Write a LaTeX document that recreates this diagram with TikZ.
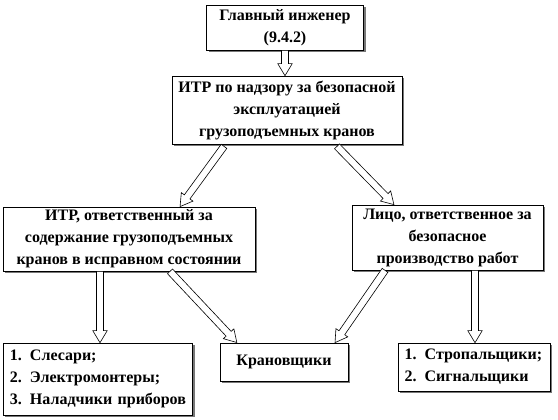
\documentclass[tikz,border=0pt]{standalone}
\usepackage{fontspec}
\setmainfont{Liberation Serif}
\usepackage{tikz}
\usetikzlibrary{calc, shadows}
\definecolor{ShadowGray}{RGB}{120, 120, 120}
\tikzset{
  box/.style={rectangle, draw=black, fill=white, line width=0.5pt,
    align=center, inner sep=2pt,
    font=\fontsize{12}{16.5}\selectfont\bfseries,
    drop shadow={shadow xshift=1.6pt, shadow yshift=-1.6pt,
      fill=ShadowGray, opacity=1}},
  listbox/.style={box, align=left, inner xsep=5pt},
  barr/.style={draw=black, fill=white, line width=0.45pt},
}
% hollow block arrow between two points
\newcommand{\blockarrow}[2]{%
  \draw[barr] let \p1=#1, \p2=#2,
      \n1={atan2(\y2-\y1,\x2-\x1)}, \n2={veclen(\x2-\x1,\y2-\y1)} in
    [shift={(\p1)}, rotate=\n1]
    (0pt,-2.6pt) -- ({\n2*1pt-9pt},-2.6pt) -- ({\n2*1pt-9pt},-5.4pt)
    -- ({\n2*1pt},0pt) -- ({\n2*1pt-9pt},5.4pt) -- ({\n2*1pt-9pt},2.6pt)
    -- (0pt,2.6pt) -- cycle;}

\begin{document}
\begin{tikzpicture}[x=0.75pt, y=-0.75pt]
  \useasboundingbox (0,0) rectangle (558,419);
  % boxes
  \node[box, minimum width=117.75pt, minimum height=33.75pt]
    (chief) at (285,27.5) {Главный инженер\\(9.4.2)};
  \node[box, minimum width=172.5pt, minimum height=51pt]
    (itr) at (287,110) {ИТР по надзору за безопасной\\эксплуатацией\\грузоподъемных кранов};
  \node[box, minimum width=189pt, minimum height=48pt]
    (left) at (129,239) {ИТР, ответственный за\\содержание грузоподъемных\\кранов в исправном состоянии};
  \node[box, minimum width=143.25pt, minimum height=48.75pt]
    (right) at (447.5,237.5) {Лицо, ответственное за\\безопасное\\производство работ};
  \node[listbox, text width=132pt, minimum height=54pt]
    (fitters) at (98,379) {1. Слесари;\\2. Электромонтеры;\\3. Наладчики приборов};
  \node[box, minimum width=96pt, minimum height=28.5pt]
    (crane) at (284,362) {Крановщики};
  \node[listbox, text width=104pt, minimum height=36pt]
    (slingers) at (474,367) {1. Стропальщики;\\2. Сигнальщики};
  % arrows
  \blockarrow{(chief.south)}{(chief.south |- itr.north)}
  \blockarrow{($(itr.south)+(-63,2)$)}{($(left.north)+(51,0)$)}
  \blockarrow{($(itr.south)+(50,2)$)}{($(right.north)+(-53.5,0)$)}
  \blockarrow{($(left.south)+(-29,0)$)}{($(fitters.north)+(2,0)$)}
  \blockarrow{($(left.south)+(41,0)$)}{($(crane.north)+(-47,0)$)}
  \blockarrow{($(right.south)+(-62.5,0)$)}{($(crane.north)+(51,0)$)}
  \blockarrow{($(right.south)+(27.5,0)$)}{($(slingers.north)+(1,0)$)}
\end{tikzpicture}
\end{document}
